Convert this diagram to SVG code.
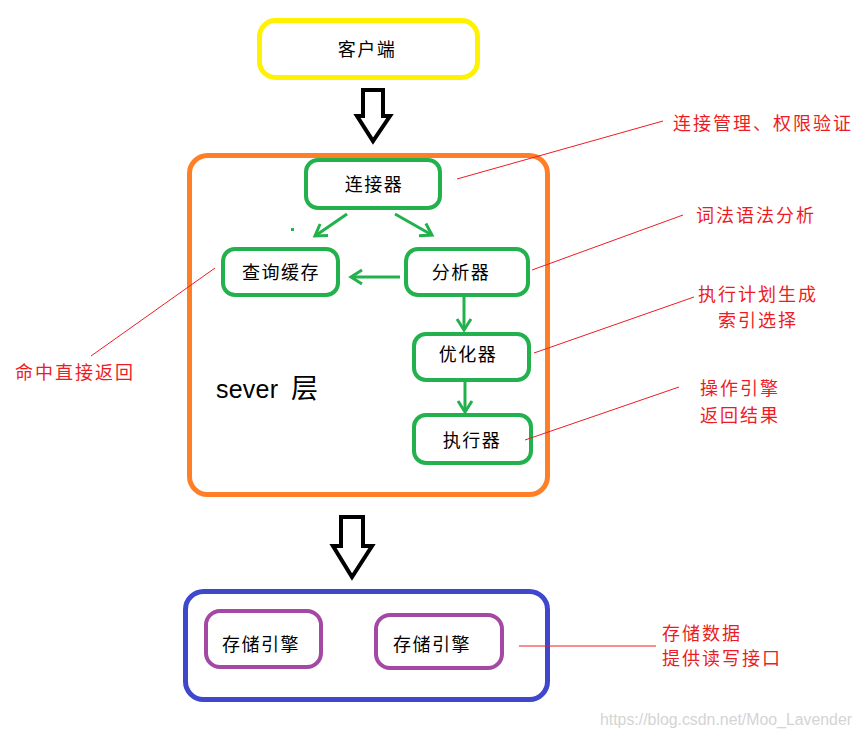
<svg xmlns="http://www.w3.org/2000/svg" width="862" height="738" viewBox="0 0 862 738">
<style>
  .lbl { font-family: "Noto Sans CJK SC", "Liberation Sans", sans-serif; font-size: 18px; fill: #000; text-anchor: middle; letter-spacing: 1.5px; }
  .note { font-family: "Noto Sans CJK SC", "Liberation Sans", sans-serif; font-size: 18px; fill: #ED1C24; letter-spacing: 2px; }
  .gbox { fill: #fff; stroke: #22B14C; stroke-width: 4; }
  .pbox { fill: #fff; stroke: #A349A4; stroke-width: 4; }
  .garrow { stroke: #22B14C; stroke-width: 3; fill: none; }
  .lead { stroke: #ED1C24; stroke-width: 1; fill: none; }
  .big { fill: #fff; stroke: #000; stroke-width: 4; stroke-linejoin: miter; }
</style>
<defs>
  <marker id="gh" markerUnits="userSpaceOnUse" markerWidth="30" markerHeight="30" refX="0" refY="0" viewBox="-15 -15 30 30" orient="auto">
    <path d="M-11,-7 L0,0 L-11,7" fill="none" stroke="#22B14C" stroke-width="3"/>
  </marker>
</defs>
<rect width="862" height="738" fill="#fff"/>

<g id="client">
  <rect x="259.5" y="20.5" width="218" height="57" rx="16" fill="#fff" stroke="#FFF200" stroke-width="5"/>
  <text class="lbl" x="367" y="56">客户端</text>
</g>

<g id="arrow-top">
  <polygon class="big" points="363,90 383,90 383,116 390,116 373,141 357,116 363,116"/>
</g>

<g id="server">
  <rect x="189.5" y="155.5" width="358" height="339" rx="18" fill="none" stroke="#FF7F27" stroke-width="5"/>
  <text x="216" y="398" font-family="Liberation Sans, sans-serif" font-size="25" fill="#000" textLength="62" lengthAdjust="spacing">sever</text>
  <text x="291" y="398" font-family="Noto Sans CJK SC, sans-serif" font-size="27" fill="#000">层</text>
</g>

<g id="connector">
  <rect class="gbox" x="306" y="160" width="134" height="48" rx="12"/>
  <text class="lbl" x="374" y="191">连接器</text>
</g>
<g id="cache">
  <rect class="gbox" x="223" y="249" width="115" height="46" rx="12"/>
  <text class="lbl" x="281" y="279">查询缓存</text>
</g>
<g id="analyzer">
  <rect class="gbox" x="406" y="249" width="122" height="46" rx="12"/>
  <text class="lbl" x="461" y="279">分析器</text>
</g>
<g id="optimizer">
  <rect class="gbox" x="414" y="334" width="115" height="46" rx="12"/>
  <text class="lbl" x="468" y="361">优化器</text>
</g>
<g id="executor">
  <rect class="gbox" x="414" y="415" width="117" height="48" rx="12"/>
  <text class="lbl" x="472" y="447">执行器</text>
</g>

<g id="arrow-bottom">
  <polygon class="big" points="341,517 363,517 363,546 372,546 352,577 333,546 341,546"/>
</g>

<g id="storage">
  <rect x="185.5" y="591.5" width="362" height="108" rx="18" fill="none" stroke="#3F48CC" stroke-width="5"/>
</g>
<g id="engine1">
  <rect class="pbox" x="206" y="611" width="115" height="56" rx="14"/>
  <text class="lbl" x="261" y="651">存储引擎</text>
</g>
<g id="engine2">
  <rect class="pbox" x="376" y="615" width="126" height="53" rx="14"/>
  <text class="lbl" x="432" y="651">存储引擎</text>
</g>

<g id="connectors">
  <line class="garrow" x1="347" y1="214" x2="315" y2="236" marker-end="url(#gh)"/>
  <line class="garrow" x1="395" y1="214" x2="432" y2="235" marker-end="url(#gh)"/>
  <line class="garrow" x1="400" y1="277" x2="351" y2="277" marker-end="url(#gh)"/>
  <line class="garrow" x1="464" y1="297" x2="464" y2="330" marker-end="url(#gh)"/>
  <line class="garrow" x1="465" y1="382" x2="465" y2="412" marker-end="url(#gh)"/>
  <rect x="291" y="228" width="3" height="3" fill="#22B14C"/>
  <line class="lead" x1="457" y1="179" x2="663" y2="121"/>
  <line class="lead" x1="532" y1="270" x2="683" y2="215"/>
  <line class="lead" x1="534" y1="353" x2="694" y2="297"/>
  <line class="lead" x1="525" y1="440" x2="679" y2="387"/>
  <line class="lead" x1="519" y1="646" x2="656" y2="646"/>
  <line class="lead" x1="215" y1="268" x2="91" y2="356"/>
</g>

<g id="notes">
  <text class="note" x="673" y="130">连接管理、权限验证</text>
  <text class="note" x="696" y="222">词法语法分析</text>
  <text class="note" x="698" y="301">执行计划生成</text>
  <text class="note" x="718" y="327">索引选择</text>
  <text class="note" x="700" y="395">操作引擎</text>
  <text class="note" x="700" y="422">返回结果</text>
  <text class="note" x="662" y="640">存储数据</text>
  <text class="note" x="662" y="665">提供读写接口</text>
  <text class="note" x="15" y="379">命中直接返回</text>
</g>

<text x="600" y="725" font-family="Liberation Sans, sans-serif" font-size="16" fill="#d4d4d4" textLength="252" lengthAdjust="spacingAndGlyphs">https://blog.csdn.net/Moo_Lavender</text>
</svg>
